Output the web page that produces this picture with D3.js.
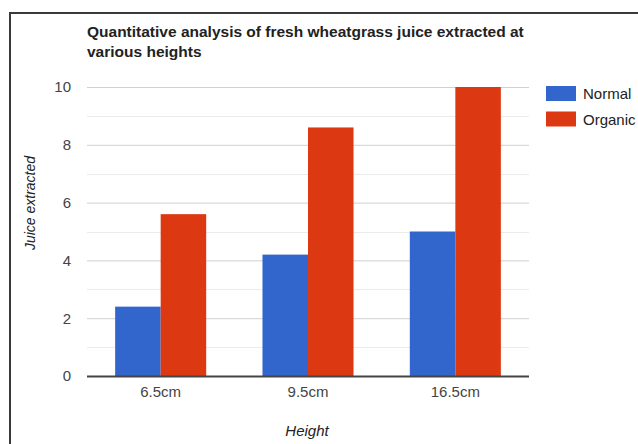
<!DOCTYPE html>
<html>
<head>
<meta charset="utf-8">
<script src="https://cdn.jsdelivr.net/npm/d3@7"></script>
<style>
  html, body { margin: 0; padding: 0; background: #fff; }
  svg { display: block; font-family: "Liberation Sans", Arial, sans-serif; }
</style>
</head>
<body>
<svg id="chart" width="638" height="444"></svg>
<script>
// Juice extracted per plant height, for two growing methods
const heights = ["6.5cm", "9.5cm", "16.5cm"];
const seriesNames = ["Normal", "Organic"];
const normalValues = [2.4, 4.2, 5.0];
const organicValues = [5.6, 8.6, 10.0];
const yTicks = [0, 2, 4, 6, 8, 10];
const yMinorTicks = [1, 3, 5, 7, 9];
const titleLines = ["Quantitative analysis of fresh wheatgrass juice extracted at", "various heights"];
const colors = ["#3366cc", "#dc3912"];

const svg = d3.select("#chart");

const plot = { left: 87, right: 529, top: 87, bottom: 376 };

const x = d3.scaleBand()
  .domain(heights)
  .range([plot.left, plot.right])
  .paddingInner(0.382)
  .paddingOuter(0.191);

const xSeries = d3.scaleBand()
  .domain(seriesNames)
  .range([0, x.bandwidth()]);

const y = d3.scaleLinear()
  .domain([0, 10])
  .range([plot.bottom, plot.top]);

// frame lines along the top and left edge
svg.append("path")
  .attr("d", "M10,444 V13 H638")
  .attr("fill", "none")
  .attr("stroke", "#3a3a3a")
  .attr("stroke-width", 2);

// title
const title = svg.append("text")
  .attr("x", plot.left)
  .attr("y", 37)
  .attr("font-size", 15.5)
  .attr("font-weight", "bold")
  .attr("fill", "#222");
title.selectAll("tspan")
  .data(titleLines)
  .join("tspan")
  .attr("x", plot.left)
  .attr("dy", (d, i) => i === 0 ? 0 : 20)
  .text(d => d);

// minor gridlines
svg.append("g")
  .selectAll("line")
  .data(yMinorTicks)
  .join("line")
  .attr("x1", plot.left)
  .attr("x2", plot.right)
  .attr("y1", d => Math.round(y(d)) + 0.5)
  .attr("y2", d => Math.round(y(d)) + 0.5)
  .attr("stroke", "#ebebeb");

// major gridlines and tick labels via a left axis
const yAxis = svg.append("g")
  .attr("transform", `translate(${plot.left},0)`)
  .call(d3.axisLeft(y)
    .tickValues(yTicks)
    .tickSize(-(plot.right - plot.left))
    .tickPadding(16)
    .tickFormat(d3.format("d")));
yAxis.select(".domain").remove();
yAxis.selectAll(".tick line")
  .attr("stroke", "#d0d0d0");
yAxis.selectAll(".tick text")
  .attr("font-size", 15)
  .attr("font-family", "Liberation Sans, Arial, sans-serif")
  .attr("fill", "#444");

// bars
const groups = svg.append("g")
  .selectAll("g")
  .data(heights.map((h, i) => ({ h, vals: [normalValues[i], organicValues[i]] })))
  .join("g")
  .attr("transform", d => `translate(${x(d.h)},0)`);

groups.selectAll("rect")
  .data(d => d.vals.map((v, j) => ({ name: seriesNames[j], v, j })))
  .join("rect")
  .attr("x", d => xSeries(d.name))
  .attr("width", xSeries.bandwidth())
  .attr("y", d => y(d.v))
  .attr("height", d => y(0) - y(d.v))
  .attr("fill", d => colors[d.j]);

// baseline
svg.append("line")
  .attr("x1", plot.left)
  .attr("x2", plot.right)
  .attr("y1", y(0) + 0.5)
  .attr("y2", y(0) + 0.5)
  .attr("stroke", "#444")
  .attr("stroke-width", 2);

// x axis labels
const xAxis = svg.append("g")
  .attr("transform", `translate(0,${plot.bottom})`)
  .call(d3.axisBottom(x).tickSize(0).tickPadding(10));
xAxis.select(".domain").remove();
xAxis.selectAll(".tick text")
  .attr("font-size", 15)
  .attr("font-family", "Liberation Sans, Arial, sans-serif")
  .attr("fill", "#444");

// axis titles
svg.append("text")
  .attr("x", 307)
  .attr("y", 436)
  .attr("text-anchor", "middle")
  .attr("font-size", 15)
  .attr("font-style", "italic")
  .attr("fill", "#222")
  .text("Height");

svg.append("text")
  .attr("transform", "translate(35,203) rotate(-90)")
  .attr("text-anchor", "middle")
  .attr("font-size", 14)
  .attr("font-style", "italic")
  .attr("fill", "#222")
  .text("Juice extracted");

// legend
const legend = svg.append("g")
  .selectAll("g")
  .data(seriesNames)
  .join("g")
  .attr("transform", (d, i) => `translate(546,${86 + i * 25.5})`);
legend.append("rect")
  .attr("width", 30)
  .attr("height", 15)
  .attr("fill", (d, i) => colors[i]);
legend.append("text")
  .attr("x", 37)
  .attr("y", 13)
  .attr("font-size", 15)
  .attr("fill", "#222")
  .text(d => d);
</script>
</body>
</html>
